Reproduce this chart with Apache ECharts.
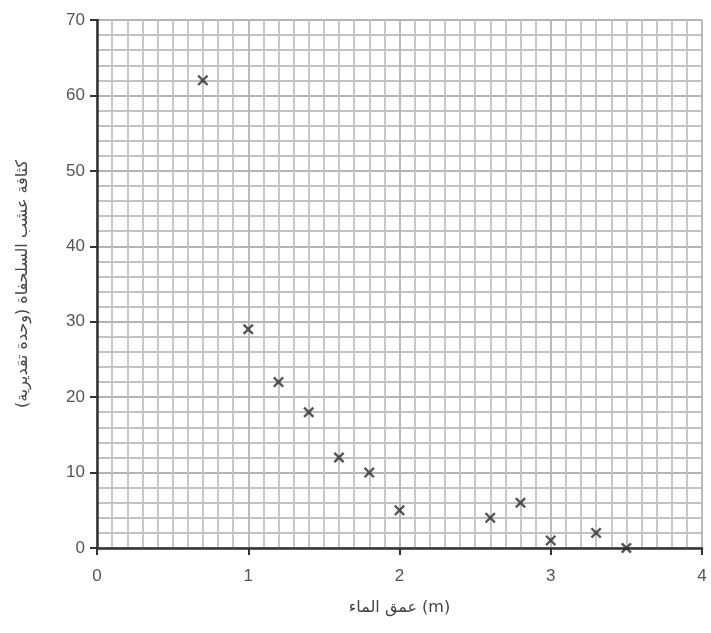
<!DOCTYPE html>
<html>
<head>
<meta charset="utf-8">
<script src="https://cdn.jsdelivr.net/npm/echarts@6/dist/echarts.min.js"></script>
<style>
  html, body { margin: 0; padding: 0; background: #fff; }
  #chart { width: 711px; height: 633px; }
</style>
</head>
<body>
<div id="chart"></div>
<script>
// depth (m) vs turtle grass density
const depth = [0.7, 1.0, 1.2, 1.4, 1.6, 1.8, 2.0, 2.6, 2.8, 3.0, 3.3, 3.5]
const density = [62, 29, 22, 18, 12, 10, 5, 4, 6, 1, 2, 0]

const xName = 'عمق الماء (m)'
const yName = 'كثافة عشب السلحفاة (وحدة تقديرية)'

// thick X with a filled centre
const crossMark = 'path://M0,1.5 L1.5,0 L5,3.5 L8.5,0 L10,1.5 L6.5,5 L10,8.5 L8.5,10 L5,6.5 L1.5,10 L0,8.5 L3.5,5 Z'

const chart = echarts.init(document.getElementById('chart'))

chart.setOption({
  animation: false,
  grid: { left: 97, right: 9, top: 20, bottom: 85 },
  xAxis: {
    type: 'value',
    min: 0,
    max: 4,
    interval: 1,
    name: xName,
    nameLocation: 'middle',
    nameGap: 52,
    nameTextStyle: { color: '#444', fontSize: 16, fontFamily: 'DejaVu Sans' },
    axisLine: { onZero: false, lineStyle: { color: '#333', width: 2.5 } },
    axisTick: { show: true, length: 7, lineStyle: { color: '#333', width: 2 } },
    axisLabel: { color: '#555', fontSize: 17, margin: 20, fontFamily: 'Liberation Sans' },
    splitLine: { show: true, lineStyle: { color: '#b4b4b4', width: 1.8 } },
    minorTick: { show: false, splitNumber: 10 },
    minorSplitLine: { show: true, lineStyle: { color: '#c2c2c2', width: 1.8 } },
  },
  yAxis: {
    type: 'value',
    min: 0,
    max: 70,
    interval: 10,
    name: yName,
    nameLocation: 'middle',
    nameGap: 66,
    nameRotate: 90,
    nameTextStyle: { color: '#444', fontSize: 16, fontFamily: 'DejaVu Sans' },
    axisLine: { show: true, onZero: false, lineStyle: { color: '#333', width: 2.5 } },
    axisTick: { show: true, length: 7, lineStyle: { color: '#333', width: 2 } },
    axisLabel: { color: '#555', fontSize: 17, margin: 12, fontFamily: 'Liberation Sans' },
    splitLine: { show: true, lineStyle: { color: '#b4b4b4', width: 1.8 } },
    minorTick: { show: false, splitNumber: 5 },
    minorSplitLine: { show: true, lineStyle: { color: '#c2c2c2', width: 1.8 } },
  },
  series: [
    {
      type: 'scatter',
      data: depth.map((d, i) => [d, density[i]]),
      symbol: crossMark,
      symbolSize: 11,
      itemStyle: { color: '#2a2a2a' },
      z: 10,
    },
  ],
})
</script>
</body>
</html>
